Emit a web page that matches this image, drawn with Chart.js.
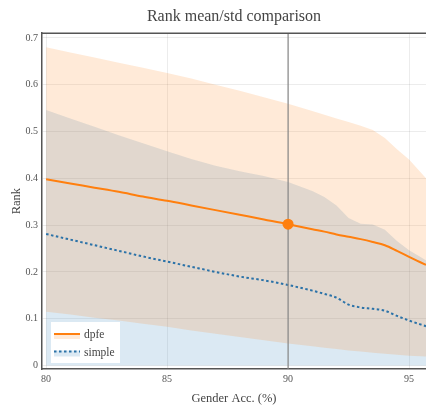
<!DOCTYPE html>
<html>
<head>
<meta charset="utf-8">
<title>Rank mean/std comparison</title>
<script src="https://cdn.jsdelivr.net/npm/chart.js@4.4.0/dist/chart.umd.min.js"></script>
<style>
    html, body { margin: 0; padding: 0; background: #fff; overflow: hidden; }
</style>
</head>
<body>
<canvas id="rankChart" width="426" height="406"></canvas>
<script>
// x positions (gender accuracy, %) the curves were read at
const accuracy = [80, 81, 82, 83, 84, 85, 86, 87, 88, 89, 90, 91, 91.5, 92, 92.5, 93, 93.5, 94, 94.5, 95, 95.7];

// dpfe: mean and mean +/- std
const dpfeMean  = [0.398, 0.389, 0.380, 0.371, 0.361, 0.352, 0.342, 0.332, 0.322, 0.312, 0.302, 0.291, 0.286, 0.280, 0.275, 0.270, 0.264, 0.257, 0.245, 0.232, 0.215];
const dpfeUpper = [0.680, 0.669, 0.658, 0.647, 0.636, 0.625, 0.613, 0.600, 0.587, 0.573, 0.559, 0.544, 0.536, 0.528, 0.520, 0.512, 0.503, 0.486, 0.462, 0.440, 0.400];
const dpfeLower = [0.115, 0.109, 0.102, 0.096, 0.089, 0.083, 0.075, 0.068, 0.061, 0.054, 0.047, 0.041, 0.038, 0.035, 0.032, 0.030, 0.027, 0.025, 0.023, 0.021, 0.019];

// simple: mean and mean +/- std (lower bound clipped at 0)
const simpleMean  = [0.281, 0.269, 0.257, 0.245, 0.233, 0.222, 0.211, 0.200, 0.190, 0.182, 0.172, 0.160, 0.153, 0.145, 0.130, 0.124, 0.121, 0.117, 0.106, 0.096, 0.084];
const simpleUpper = [0.546, 0.528, 0.510, 0.492, 0.475, 0.458, 0.441, 0.427, 0.415, 0.405, 0.392, 0.373, 0.360, 0.342, 0.315, 0.303, 0.301, 0.290, 0.266, 0.246, 0.225];
const simpleLower = [0, 0, 0, 0, 0, 0, 0, 0, 0, 0, 0, 0, 0, 0, 0, 0, 0, 0, 0, 0, 0];

// highlighted operating point
const markerAcc = 90;
const markerRank = 0.302;

// axes
const xMin = 79.83, xMax = 95.7;
const yMin = -0.0075, yMax = 0.71;
const xTicks = [80, 85, 90, 95];
const xTickLabels = ['80', '85', '90', '95'];
const yTicks = [0, 0.1, 0.2, 0.3, 0.4, 0.5, 0.6, 0.7];
const yTickLabels = ['0', '0.1', '0.2', '0.3', '0.4', '0.5', '0.6', '0.7'];

const serif = "'Liberation Serif', 'DejaVu Serif', serif";
const orange = '#ff7f0e';
const blue = '#2b72a8';
const orangeFill = 'rgba(255, 127, 14, 0.16)';
const blueFill = 'rgba(31, 119, 180, 0.16)';
const gridColor = 'rgba(0, 0, 0, 0.075)';
const frameColor = '#555';

function points(values) {
    return accuracy.map((x, i) => ({ x: x, y: values[i] }));
}

// top edge of the plot frame
const framePlugin = {
    id: 'frame',
    afterDatasetsDraw(chart) {
        const { ctx, chartArea } = chart;
        ctx.save();
        ctx.strokeStyle = frameColor;
        ctx.lineWidth = 1.5;
        ctx.beginPath();
        ctx.moveTo(chartArea.left, chartArea.top);
        ctx.lineTo(chartArea.right, chartArea.top);
        ctx.stroke();
        ctx.restore();
    }
};

// legend box in the lower left corner, line drawn over a fill patch
const bandLegend = {
    id: 'bandLegend',
    afterDatasetsDraw(chart) {
        const { ctx, chartArea } = chart;
        const items = [
            { ds: chart.data.datasets[5], fill: orangeFill },
            { ds: chart.data.datasets[4], fill: blueFill }
        ];
        const left = chartArea.left + 9;
        const top = chartArea.bottom - 47;
        ctx.save();
        ctx.fillStyle = '#fff';
        ctx.fillRect(left, top, 69, 41);
        items.forEach((item, i) => {
            const y = top + 12 + i * 17.5;
            ctx.fillStyle = item.fill;
            ctx.fillRect(left + 3, y - 1, 26, 6);
            ctx.strokeStyle = item.ds.borderColor;
            ctx.lineWidth = 2;
            ctx.setLineDash(item.ds.borderDash || []);
            ctx.beginPath();
            ctx.moveTo(left + 3, y);
            ctx.lineTo(left + 29, y);
            ctx.stroke();
            ctx.setLineDash([]);
            ctx.fillStyle = '#444';
            ctx.font = '11.5px ' + serif;
            ctx.textBaseline = 'middle';
            ctx.fillText(item.ds.label, left + 33, y + 1);
        });
        ctx.restore();
    }
};

const band = (values, color, fill, order) => ({
    data: points(values),
    borderWidth: 0,
    pointRadius: 0,
    backgroundColor: color,
    fill: fill,
    order: order
});

const ctx = document.getElementById('rankChart').getContext('2d');
const chart = new Chart(ctx, {
    type: 'line',
    data: {
        datasets: [
            band(simpleUpper, blueFill, '+1', 10),
            band(simpleLower, blueFill, false, 10),
            band(dpfeUpper, orangeFill, '+1', 8),
            band(dpfeLower, orangeFill, false, 8),
            {
                label: 'simple',
                data: points(simpleMean),
                borderColor: blue,
                borderWidth: 2,
                borderDash: [2.5, 2.5],
                pointRadius: 0,
                fill: false,
                cubicInterpolationMode: 'monotone',
                order: 5
            },
            {
                label: 'dpfe',
                data: points(dpfeMean),
                borderColor: orange,
                borderWidth: 2,
                pointRadius: 0,
                fill: false,
                cubicInterpolationMode: 'monotone',
                order: 4
            },
            {
                // vertical guide at the chosen accuracy
                data: [{ x: markerAcc, y: yMin }, { x: markerAcc, y: yMax }],
                borderColor: '#888',
                borderWidth: 1.2,
                pointRadius: 0,
                fill: false,
                order: 3
            },
            {
                data: [{ x: markerAcc, y: markerRank }],
                showLine: false,
                pointRadius: 5.5,
                pointBackgroundColor: orange,
                pointBorderWidth: 0,
                order: 1
            }
        ]
    },
    options: {
        responsive: false,
        animation: false,
        layout: { padding: 0, autoPadding: false },
        plugins: {
            legend: { display: false },
            tooltip: { enabled: false },
            title: {
                display: true,
                fullSize: false, // centre over the plot area, not the canvas
                text: 'Rank mean/std comparison',
                color: '#444',
                font: { family: serif, size: 16, weight: 'normal' },
                padding: { top: 7, bottom: 7 }
            }
        },
        scales: {
            x: {
                type: 'linear',
                min: xMin,
                max: xMax,
                afterBuildTicks: scale => { scale.ticks = xTicks.map(v => ({ value: v })); },
                afterFit: scale => { scale.height = 37; },
                grid: { color: gridColor, drawTicks: false },
                border: { display: true, color: frameColor, width: 1.5 },
                ticks: {
                    padding: 4,
                    color: '#555',
                    font: { family: serif, size: 10 },
                    callback: (value, index) => xTickLabels[index]
                },
                title: {
                    display: true,
                    text: 'Gender Acc. (%)',
                    color: '#444',
                    font: { family: serif, size: 12.5 },
                    padding: { top: 0, bottom: 0 }
                }
            },
            y: {
                min: yMin,
                max: yMax,
                afterBuildTicks: scale => { scale.ticks = yTicks.map(v => ({ value: v })); },
                afterFit: scale => { scale.width = 42; },
                grid: { color: gridColor, drawTicks: false },
                border: { display: true, color: frameColor, width: 1.5 },
                ticks: {
                    padding: 4,
                    color: '#555',
                    font: { family: serif, size: 10 },
                    callback: (value, index) => yTickLabels[index]
                },
                title: {
                    display: true,
                    text: 'Rank',
                    color: '#444',
                    font: { family: serif, size: 12.5 },
                    padding: { top: 9, bottom: 0 }
                }
            }
        }
    },
    plugins: [framePlugin, bandLegend]
});
</script>
</body>
</html>
